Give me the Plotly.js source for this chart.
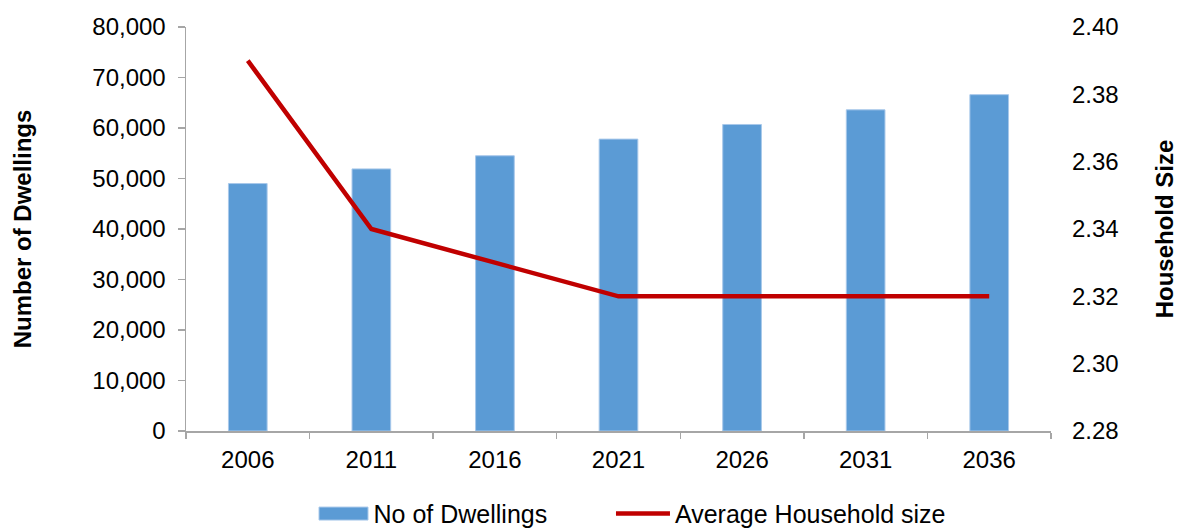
<!DOCTYPE html>
<html>
<head>
<meta charset="utf-8">
<script src="https://cdn.plot.ly/plotly-3.0.1.min.js"></script>
<style>
html,body{margin:0;padding:0;background:#fff;}
#chart{width:1178px;height:528px;}
</style>
</head>
<body>
<div id="chart"></div>
<script>
var years = ['2006', '2011', '2016', '2021', '2026', '2031', '2036'];
var dwellings = [49000, 51900, 54500, 57800, 60700, 63600, 66600];
var householdSize = [2.39, 2.34, 2.33, 2.32, 2.32, 2.32, 2.32];
var leftTicks = [0, 10000, 20000, 30000, 40000, 50000, 60000, 70000, 80000];
var rightTicks = [2.28, 2.30, 2.32, 2.34, 2.36, 2.38, 2.40];

var FONT = 'Liberation Sans, Arial, sans-serif';
var data = [
  {
    type: 'bar',
    name: 'No of Dwellings',
    x: years,
    y: dwellings,
    legend: 'legend',
    marker: {color: '#5B9BD5', line: {color: '#A8C8EA', width: 1}},
    hoverinfo: 'x+y'
  },
  {
    type: 'scatter',
    mode: 'lines',
    name: 'Average Household size',
    x: years,
    y: householdSize,
    yaxis: 'y2',
    legend: 'legend2',
    line: {color: '#C00000', width: 4.5}
  }
];

var legendCommon = {
  orientation: 'h',
  xanchor: 'left',
  yanchor: 'middle',
  y: -0.205,
  font: {family: FONT, size: 25, color: '#000'},
  itemwidth: 50,
  bgcolor: 'rgba(0,0,0,0)'
};

var layout = {
  width: 1178,
  height: 528,
  margin: {l: 186, r: 127, t: 27, b: 97, autoexpand: false},
  paper_bgcolor: '#ffffff',
  plot_bgcolor: '#ffffff',
  font: {family: FONT, size: 24, color: '#000000'},
  bargap: 0.687,
  showlegend: true,
  legend: Object.assign({}, legendCommon, {x: 0.1474}),
  legend2: Object.assign({}, legendCommon, {x: 0.4913, itemwidth: 54}),
  xaxis: {
    type: 'category',
    showline: true,
    linecolor: '#A6A6A6',
    linewidth: 1.5,
    ticks: 'outside',
    tickson: 'boundaries',
    ticklen: 6,
    tickcolor: '#A6A6A6',
    tickwidth: 1.5,
    ticklabelstandoff: 7,
    tickfont: {family: FONT, size: 24, color: '#000'},
    showgrid: false,
    zeroline: false,
    automargin: false
  },
  yaxis: {
    range: [0, 80000],
    tickvals: leftTicks,
    tickformat: ',',
    showline: true,
    linecolor: '#A6A6A6',
    linewidth: 1.5,
    ticks: 'outside',
    ticklen: 7,
    tickcolor: '#A6A6A6',
    tickwidth: 1.5,
    ticklabelstandoff: 7,
    tickfont: {family: FONT, size: 24, color: '#000'},
    showgrid: false,
    zeroline: false,
    automargin: false,
    title: {text: 'Number of Dwellings', font: {family: FONT, size: 24, color: '#000', weight: 'bold'}, standoff: 54}
  },
  yaxis2: {
    overlaying: 'y',
    side: 'right',
    range: [2.28, 2.40],
    tickvals: rightTicks,
    tickformat: '.2f',
    showline: false,
    ticks: '',
    ticklabelstandoff: 20,
    showgrid: false,
    zeroline: false,
    automargin: false,
    tickfont: {family: FONT, size: 24, color: '#000'},
    title: {text: 'Household Size', font: {family: FONT, size: 24, color: '#000', weight: 'bold'}, standoff: 38}
  }
};

Plotly.newPlot('chart', data, layout, {displayModeBar: false, staticPlot: true}).then(function (gd) {
  // widen the bar legend swatch to a rectangle like the original
  var p = gd.querySelector('.legend .legendpoints path');
  if (p) { p.setAttribute('d', 'M24.5,6.5H-24.5V-6.5H24.5Z'); }
});
</script>
</body>
</html>
